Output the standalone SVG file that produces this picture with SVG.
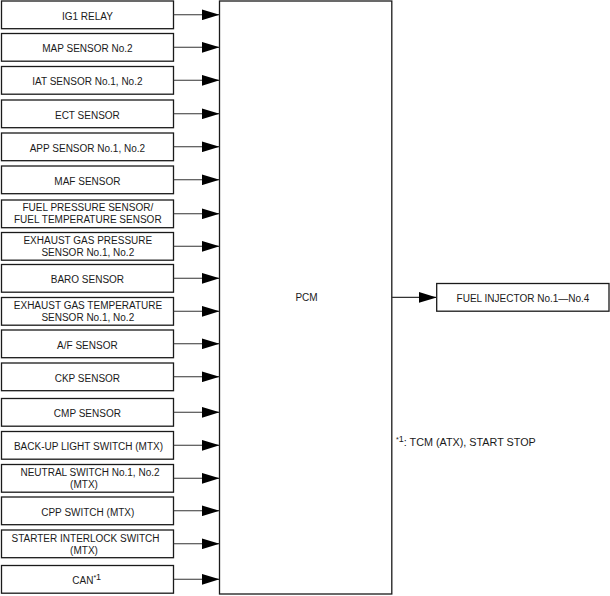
<svg xmlns="http://www.w3.org/2000/svg" width="610" height="596" viewBox="0 0 610 596">
<style>
.box{fill:#fff;stroke:#1a1a1a;stroke-width:1.3}
.t{font-family:"Liberation Sans",Arial,sans-serif;font-size:10px;fill:#1a1a1a;text-anchor:middle}
.ln{stroke:#333;stroke-width:1.1;fill:none}
</style>
<defs>
<marker id="ah" markerUnits="userSpaceOnUse" markerWidth="18" markerHeight="11" refX="18" refY="5.5" orient="auto">
<path d="M0,0 L18,5.5 L0,11 Z" fill="#000"/>
</marker>
</defs>
<rect width="610" height="596" fill="#fff"/>
<g id="pcm"><rect class="box" x="219.5" y="1" width="172.3" height="593"/><text class="t" x="306.5" y="300.5">PCM</text></g>
<g id="ig1"><rect class="box" x="1.5" y="1" width="172" height="27.7"/><text class="t" x="87.4" y="19.5">IG1 RELAY</text></g>
<g id="map"><rect class="box" x="1.5" y="33.5" width="172" height="27.7"/><text class="t" x="87.4" y="52">MAP SENSOR No.2</text></g>
<g id="iat"><rect class="box" x="1.5" y="66.5" width="172" height="27.7"/><text class="t" x="87.4" y="85">IAT SENSOR No.1, No.2</text></g>
<g id="ect"><rect class="box" x="1.5" y="100" width="172" height="27.7"/><text class="t" x="87.4" y="118.5">ECT SENSOR</text></g>
<g id="app"><rect class="box" x="1.5" y="133" width="172" height="27.7"/><text class="t" x="87.4" y="151.5">APP SENSOR No.1, No.2</text></g>
<g id="maf"><rect class="box" x="1.5" y="166" width="172" height="27.7"/><text class="t" x="87.4" y="184.5">MAF SENSOR</text></g>
<g id="fps"><rect class="box" x="1.5" y="200" width="172" height="27.7"/><text class="t" x="87.8" y="211.3">FUEL PRESSURE SENSOR/</text><text class="t" x="87.8" y="223.2">FUEL TEMPERATURE SENSOR</text></g>
<g id="egp"><rect class="box" x="1.5" y="232.5" width="172" height="27.7"/><text class="t" x="87.8" y="243.8">EXHAUST GAS PRESSURE</text><text class="t" x="87.8" y="255.7">SENSOR No.1, No.2</text></g>
<g id="baro"><rect class="box" x="1.5" y="264.5" width="172" height="27.7"/><text class="t" x="87.4" y="283">BARO SENSOR</text></g>
<g id="egt"><rect class="box" x="1.5" y="297.5" width="172" height="27.7"/><text class="t" x="88" y="309">EXHAUST GAS TEMPERATURE</text><text class="t" x="87.8" y="320.8">SENSOR No.1, No.2</text></g>
<g id="af"><rect class="box" x="1.5" y="330" width="172" height="27.7"/><text class="t" x="87.4" y="348.5">A/F SENSOR</text></g>
<g id="ckp"><rect class="box" x="1.5" y="363" width="172" height="27.7"/><text class="t" x="87.4" y="381.5">CKP SENSOR</text></g>
<g id="cmp"><rect class="box" x="1.5" y="398.5" width="172" height="27.7"/><text class="t" x="87.4" y="417">CMP SENSOR</text></g>
<g id="backup"><rect class="box" x="1.5" y="431.5" width="172" height="27.7"/><text class="t" x="88.5" y="450">BACK-UP LIGHT SWITCH (MTX)</text></g>
<g id="neutral"><rect class="box" x="1.5" y="464.5" width="172" height="27.7"/><text class="t" x="90" y="476">NEUTRAL SWITCH No.1, No.2</text><text class="t" x="84" y="488">(MTX)</text></g>
<g id="cpp"><rect class="box" x="1.5" y="497" width="172" height="27.7"/><text class="t" x="87.8" y="515.5">CPP SWITCH (MTX)</text></g>
<g id="starter"><rect class="box" x="1.5" y="530" width="172" height="27.7"/><text class="t" x="85.5" y="541.7">STARTER INTERLOCK SWITCH</text><text class="t" x="84" y="554">(MTX)</text></g>
<g id="can"><rect class="box" x="1.5" y="565.5" width="172" height="27.7"/><text class="t" x="86.7" y="584">CAN<tspan font-size="7" dy="-4">*</tspan><tspan font-size="9">1</tspan></text></g>
<g id="inj"><rect class="box" x="436.7" y="283.5" width="172.3" height="27.7"/><text class="t" x="523" y="301.5">FUEL INJECTOR No.1—No.4</text></g>
<g id="connectors">
<line class="ln" x1="173.5" y1="14.8" x2="219.5" y2="14.8" marker-end="url(#ah)"/>
<line class="ln" x1="173.5" y1="47.3" x2="219.5" y2="47.3" marker-end="url(#ah)"/>
<line class="ln" x1="173.5" y1="80.3" x2="219.5" y2="80.3" marker-end="url(#ah)"/>
<line class="ln" x1="173.5" y1="113.8" x2="219.5" y2="113.8" marker-end="url(#ah)"/>
<line class="ln" x1="173.5" y1="146.8" x2="219.5" y2="146.8" marker-end="url(#ah)"/>
<line class="ln" x1="173.5" y1="179.8" x2="219.5" y2="179.8" marker-end="url(#ah)"/>
<line class="ln" x1="173.5" y1="213.8" x2="219.5" y2="213.8" marker-end="url(#ah)"/>
<line class="ln" x1="173.5" y1="246.3" x2="219.5" y2="246.3" marker-end="url(#ah)"/>
<line class="ln" x1="173.5" y1="278.3" x2="219.5" y2="278.3" marker-end="url(#ah)"/>
<line class="ln" x1="173.5" y1="311.3" x2="219.5" y2="311.3" marker-end="url(#ah)"/>
<line class="ln" x1="173.5" y1="343.8" x2="219.5" y2="343.8" marker-end="url(#ah)"/>
<line class="ln" x1="173.5" y1="376.8" x2="219.5" y2="376.8" marker-end="url(#ah)"/>
<line class="ln" x1="173.5" y1="412.3" x2="219.5" y2="412.3" marker-end="url(#ah)"/>
<line class="ln" x1="173.5" y1="445.3" x2="219.5" y2="445.3" marker-end="url(#ah)"/>
<line class="ln" x1="173.5" y1="478.3" x2="219.5" y2="478.3" marker-end="url(#ah)"/>
<line class="ln" x1="173.5" y1="510.8" x2="219.5" y2="510.8" marker-end="url(#ah)"/>
<line class="ln" x1="173.5" y1="543.8" x2="219.5" y2="543.8" marker-end="url(#ah)"/>
<line class="ln" x1="173.5" y1="579.3" x2="219.5" y2="579.3" marker-end="url(#ah)"/>
<line class="ln" x1="391.8" y1="297.4" x2="436.7" y2="297.4" marker-end="url(#ah)"/>
</g>
<text class="t" x="396" y="446" style="text-anchor:start;font-size:10.8px"><tspan font-size="7" dy="-4">*</tspan><tspan font-size="9">1</tspan><tspan dy="4">: TCM (ATX), START STOP</tspan></text>
</svg>
